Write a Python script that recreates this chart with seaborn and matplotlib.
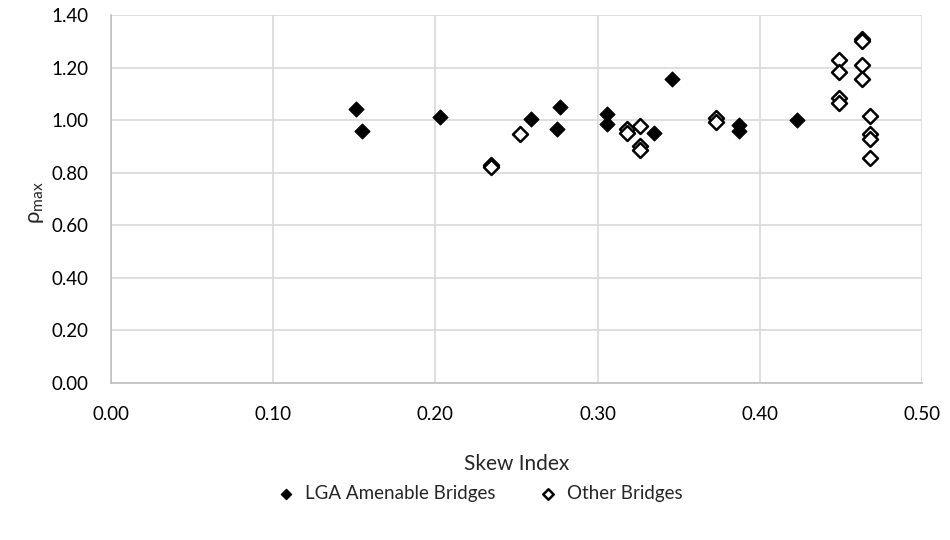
import matplotlib
matplotlib.use("Agg")
import matplotlib.pyplot as plt
import seaborn as sns
import pandas as pd
from matplotlib.ticker import FormatStrFormatter, MultipleLocator

# Skew index and peak ratio for each bridge group
lga_skew = [0.151, 0.155, 0.203, 0.259, 0.277, 0.275, 0.306, 0.306, 0.335,
            0.346, 0.387, 0.387, 0.423]
lga_rho = [1.041, 0.957, 1.013, 1.006, 1.049, 0.966, 1.022, 0.987, 0.952,
           1.157, 0.983, 0.959, 1.000]

other_skew = [0.234, 0.234, 0.252, 0.318, 0.318, 0.326, 0.326, 0.326, 0.373,
              0.373, 0.449, 0.449, 0.449, 0.449, 0.463, 0.463, 0.463, 0.463,
              0.468, 0.468, 0.468, 0.468]
other_rho = [0.829, 0.820, 0.946, 0.965, 0.952, 0.976, 0.901, 0.886, 1.010,
             0.993, 1.231, 1.184, 1.085, 1.067, 1.310, 1.300, 1.211, 1.155,
             1.015, 0.948, 0.927, 0.856]

group_names = ["LGA Amenable Bridges", "Other Bridges"]

df = pd.DataFrame({
    "skew": lga_skew + other_skew,
    "rho": lga_rho + other_rho,
    "group": [group_names[0]] * len(lga_skew) + [group_names[1]] * len(other_skew),
})

sns.set_theme(style="white")
plt.rcParams["font.family"] = ["Lato", "DejaVu Sans"]

fig = plt.figure(figsize=(9.5, 5.4), dpi=100)
ax = fig.add_axes([0.1168, 0.291, 0.8537, 0.681])

sns.scatterplot(data=df[df.group == group_names[0]], x="skew", y="rho",
                marker="D", s=58, color="black", edgecolor="black",
                linewidth=0.8, label=group_names[0], ax=ax, zorder=3)
sns.scatterplot(data=df[df.group == group_names[1]], x="skew", y="rho",
                marker="D", s=58, facecolor="white", edgecolor="black",
                linewidth=1.8, label=group_names[1], ax=ax, zorder=3)

ax.set_xlim(0, 0.5)
ax.set_ylim(0, 1.4)
ax.xaxis.set_major_locator(MultipleLocator(0.1))
ax.yaxis.set_major_locator(MultipleLocator(0.2))
ax.xaxis.set_major_formatter(FormatStrFormatter("%.2f"))
ax.yaxis.set_major_formatter(FormatStrFormatter("%.2f"))

ax.grid(True, color="#D9D9D9", linewidth=1.2)
ax.set_axisbelow(True)
for side in ["top", "right"]:
    ax.spines[side].set_visible(False)
for side in ["left", "bottom"]:
    ax.spines[side].set_color("#BFBFBF")
    ax.spines[side].set_linewidth(1.2)

ax.tick_params(axis="x", length=0, labelsize=13.5, colors="black", pad=17)
ax.tick_params(axis="y", length=0, labelsize=13.5, colors="black", pad=16)
ax.set_xlabel("Skew Index", fontsize=15, labelpad=22)
ax.set_ylabel(r"$\mathregular{\rho_{max}}$", fontsize=16)
ax.yaxis.set_label_coords(-0.080, 0.49)

handles, labels = ax.get_legend_handles_labels()
ax.get_legend().remove()
fig.legend(handles, labels, loc="center", bbox_to_anchor=(0.5, 0.087),
           ncol=2, frameon=False, fontsize=13.5, handletextpad=0.0,
           columnspacing=1.8, markerscale=0.7)

fig.savefig("out.png", dpi=100)
